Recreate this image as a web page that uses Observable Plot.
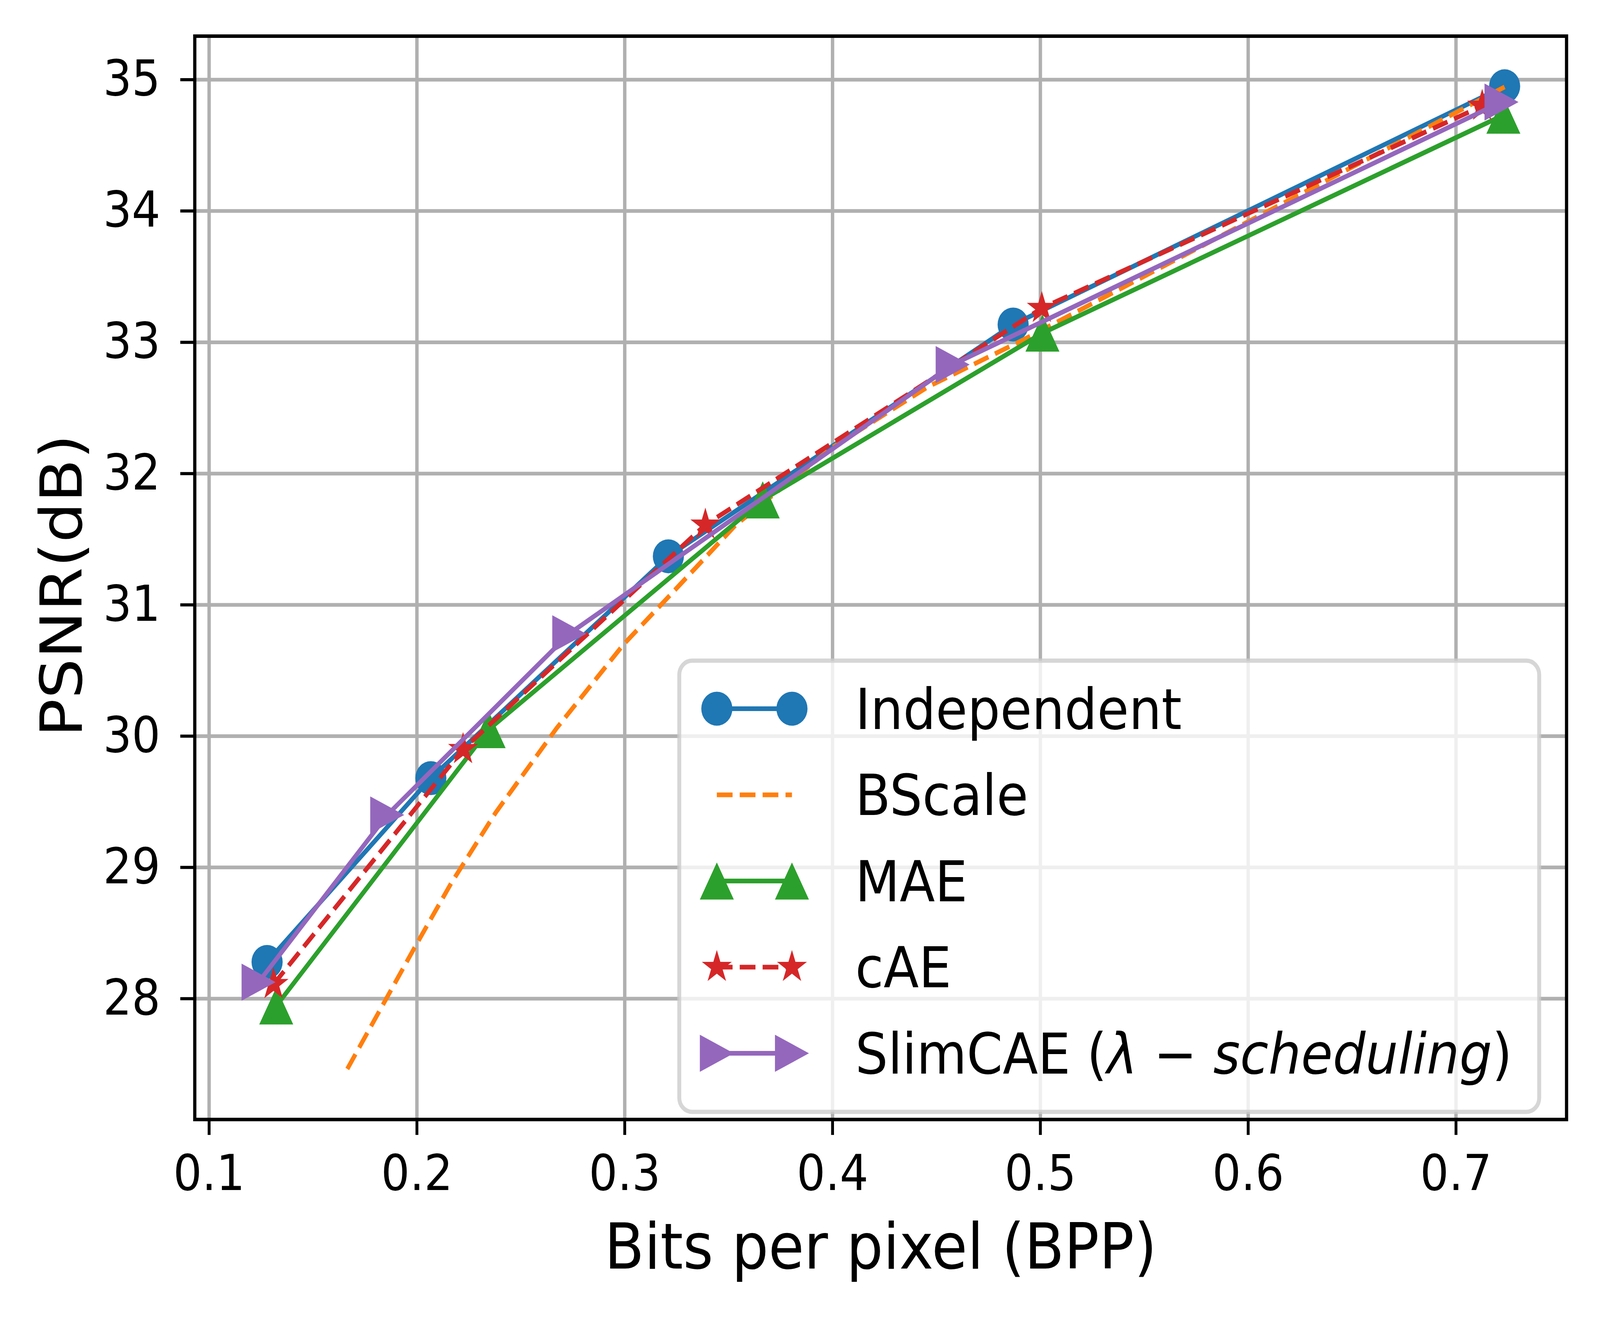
<!DOCTYPE html>
<html>
<head>
<meta charset="utf-8">
<script src="https://cdn.jsdelivr.net/npm/d3@7"></script>
<script src="https://cdn.jsdelivr.net/npm/@observablehq/plot@0.6"></script>
<style>
  html, body { margin: 0; padding: 0; background: white; overflow: hidden; }
  #chart svg { display: block; }
</style>
</head>
<body>
<div id="chart"></div>
<script>
// ---- data ----
const seriesNames = ["Independent", "BScale", "MAE", "cAE", "SlimCAE"];

const independentBpp  = [0.1279, 0.2067, 0.321, 0.4869, 0.7234];
const independentPsnr = [28.28, 29.68, 31.37, 33.135, 34.95];

const bscaleBpp  = [0.1665, 0.1996, 0.2165, 0.238, 0.2672, 0.2995, 0.321, 0.3535, 0.40, 0.4458, 0.4919, 0.7235];
const bscalePsnr = [27.465, 28.41, 28.88, 29.42, 30.06, 30.70, 31.06, 31.61, 32.20, 32.66, 33.02, 34.946];

const maeBpp  = [0.1323, 0.2345, 0.3664, 0.501, 0.7228];
const maePsnr = [27.945, 30.05, 31.80, 33.07, 34.73];

const caeBpp  = [0.131, 0.2222, 0.3388, 0.5007, 0.7126];
const caePsnr = [28.11, 29.90, 31.61, 33.26, 34.80];

const slimBpp  = [0.1238, 0.1857, 0.2733, 0.4578, 0.7219];
const slimPsnr = [28.126, 29.40, 30.78, 32.83, 34.83];

const xTicks = [0.1, 0.2, 0.3, 0.4, 0.5, 0.6, 0.7];
const yTicks = [28, 29, 30, 31, 32, 33, 34, 35];
const xLabel = "Bits per pixel (BPP)";
const yLabel = "PSNR(dB)";

// ---- matplotlib-like marker shapes ----
const triUp = { draw(ctx, size) { const r = Math.sqrt(size / Math.PI);
  ctx.moveTo(0, -r); ctx.lineTo(r, r); ctx.lineTo(-r, r); ctx.closePath(); } };
const triRight = { draw(ctx, size) { const r = Math.sqrt(size / Math.PI);
  ctx.moveTo(r, 0); ctx.lineTo(-r, r); ctx.lineTo(-r, -r); ctx.closePath(); } };
const star5 = { draw(ctx, size) { const R = Math.sqrt(size / Math.PI), ri = R * 0.381966;
  for (let k = 0; k < 10; k++) { const a = -Math.PI / 2 + k * Math.PI / 5, rr = k % 2 ? ri : R;
    const px = rr * Math.cos(a), py = rr * Math.sin(a); k ? ctx.lineTo(px, py) : ctx.moveTo(px, py); }
  ctx.closePath(); } };
const circ = { draw(ctx, size) { const r = Math.sqrt(size / Math.PI); ctx.moveTo(r, 0); ctx.arc(0, 0, r, 0, 2 * Math.PI); } };

const series = [
  { name: seriesNames[0], xs: independentBpp, ys: independentPsnr, color: "#1f77b4", dash: null, symbol: circ, r: 43.5 },
  { name: seriesNames[1], xs: bscaleBpp, ys: bscalePsnr, color: "#ff7f0e", dash: "44,20", symbol: null, r: 0 },
  { name: seriesNames[2], xs: maeBpp, ys: maePsnr, color: "#2ca02c", dash: null, symbol: triUp, r: 47.5 },
  { name: seriesNames[3], xs: caeBpp, ys: caePsnr, color: "#d62728", dash: "44,20", symbol: star5, r: 44 },
  { name: seriesNames[4], xs: slimBpp, ys: slimPsnr, color: "#9467bd", dash: null, symbol: triRight, r: 47.5 }
];
series.forEach(s => s.rows = s.xs.map((x, i) => ({ x, y: s.ys[i] })));

const W = 4473, H = 3371;
const mL = 544, mR = 94, mT = 92, mB = 506;
const LW = 12;

const marks = [
  Plot.gridX(xTicks, { stroke: "#b0b0b0", strokeOpacity: 1, strokeWidth: 9.5 }),
  Plot.gridY(yTicks, { stroke: "#b0b0b0", strokeOpacity: 1, strokeWidth: 9.5 })
];
for (const s of series) {
  marks.push(Plot.line(s.rows, { x: "x", y: "y", stroke: s.color, strokeWidth: LW,
    strokeDasharray: s.dash || undefined, strokeLinecap: s.dash ? "butt" : "round", strokeLinejoin: "round" }));
  if (s.symbol) marks.push(Plot.dot(s.rows, { x: "x", y: "y", symbol: s.symbol, r: s.r, fill: s.color, stroke: "none" }));
}
marks.push(
  Plot.axisX(xTicks, { tickFormat: d => d.toFixed(1), tickSize: 40, tickPadding: 51, fontSize: 126, strokeWidth: 8, label: null }),
  Plot.axisY(yTicks, { tickFormat: d => String(d), tickSize: 40, tickPadding: 56, fontSize: 126, strokeWidth: 8, label: null }),
  Plot.frame({ stroke: "black", strokeWidth: 9 }),
  Plot.text([xLabel], { frameAnchor: "bottom", text: d => d, textAnchor: "middle", lineAnchor: "middle", dy: 330, fontSize: 162 }),
  Plot.text([yLabel], { frameAnchor: "left", text: d => d, textAnchor: "middle", lineAnchor: "middle", rotate: -90, dx: -368, dy: 20, fontSize: 162 })
);

const chart = Plot.plot({
  width: W, height: H,
  marginLeft: mL, marginRight: mR, marginTop: mT, marginBottom: mB,
  style: { fontFamily: "DejaVu Sans", background: "white", color: "black" },
  x: { domain: [0.0931, 0.7532] },
  y: { domain: [27.08, 35.332] },
  marks
});

// the browser viewport may be narrower than 4473px: fill it proportionally
const vw = window.innerWidth || W, vh = window.innerHeight || H;
chart.setAttribute("viewBox", `0 0 ${W} ${H}`);
chart.setAttribute("preserveAspectRatio", "none");
chart.setAttribute("width", vw);
chart.setAttribute("height", vh);
chart.style.maxWidth = "none";
chart.style.width = vw + "px";
chart.style.height = vh + "px";
document.getElementById("chart").appendChild(chart);

// ---- legend (inside the axes, lower right) ----
const svg = d3.select(chart);
const frameRight = W - mR, frameBottom = H - mB;
const boxW = 2404, boxH = 1155;
const bx = frameRight - 76 - boxW, by = frameBottom - 19 - boxH;
const lg = svg.append("g").attr("font-family", "DejaVu Sans").attr("text-anchor", "start");
lg.append("rect").attr("x", bx).attr("y", by).attr("width", boxW).attr("height", boxH)
  .attr("rx", 36).attr("fill", "white").attr("fill-opacity", 0.8)
  .attr("stroke", "#cccccc").attr("stroke-opacity", 0.8).attr("stroke-width", 11);
series.forEach((s, i) => {
  const cy = by + 123 + i * 220.5, x1 = bx + 105, x2 = bx + 315;
  lg.append("line").attr("x1", x1).attr("x2", x2).attr("y1", cy).attr("y2", cy)
    .attr("stroke", s.color).attr("stroke-width", LW)
    .attr("stroke-dasharray", s.dash || null).attr("stroke-linecap", "butt");
  if (s.symbol) {
    const p = d3.symbol().type(s.symbol).size(Math.PI * s.r * s.r)();
    [x1, x2].forEach(x => lg.append("path").attr("d", p).attr("transform", `translate(${x},${cy})`).attr("fill", s.color));
  }
  const t = lg.append("text").attr("x", bx + 492).attr("y", cy + 52).attr("font-size", 144)
    .attr("fill", "black").attr("text-anchor", "start");
  if (i === 4) {
    t.append("tspan").text("SlimCAE (");
    t.append("tspan").attr("font-style", "italic").text("λ");
    t.append("tspan").text(" − ");
    t.append("tspan").attr("font-style", "italic").text("scheduling");
    t.append("tspan").text(")");
  } else {
    t.text(s.name);
  }
});
</script>
</body>
</html>
